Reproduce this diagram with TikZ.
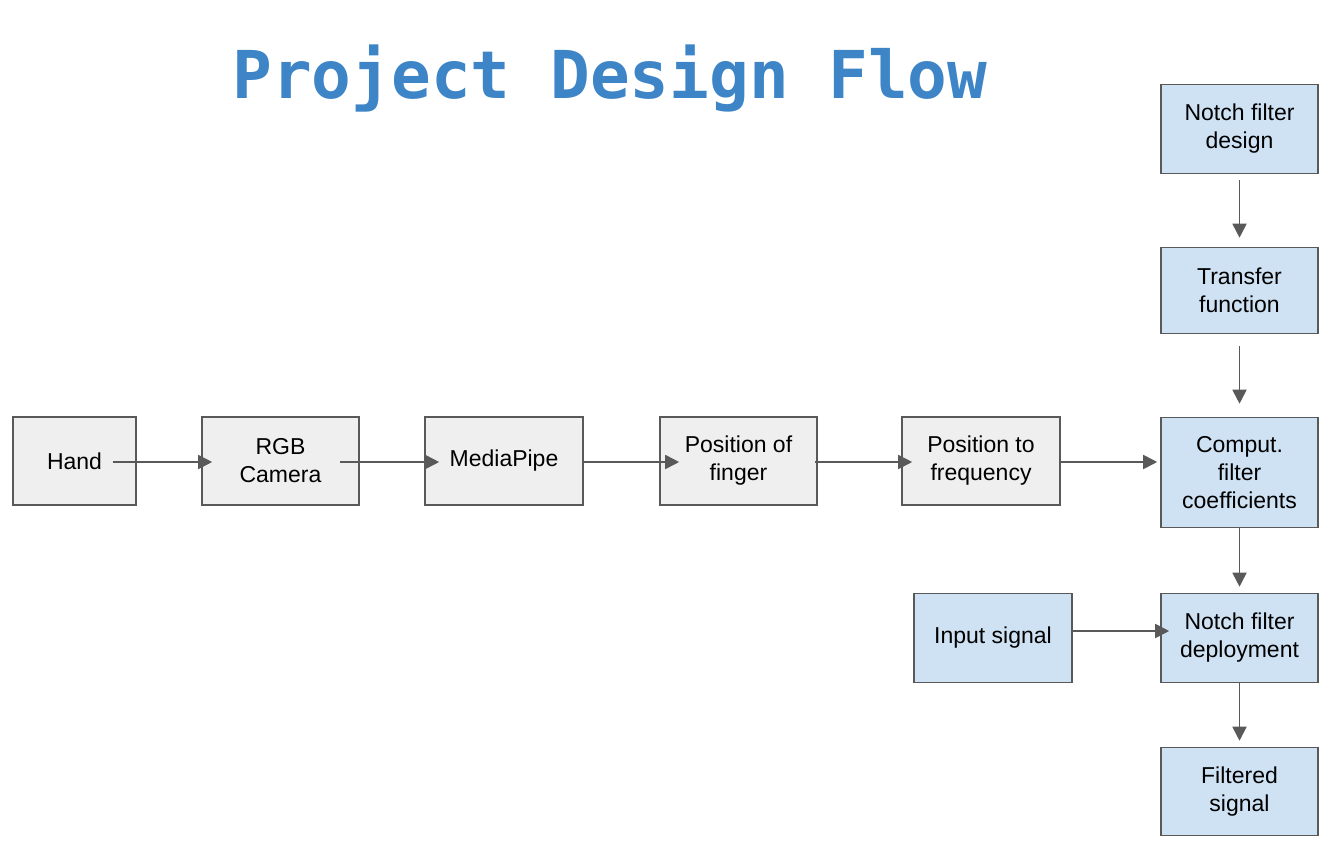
\documentclass[tikz,border=0pt]{standalone}
\usepackage{fontspec}
\setmainfont{Liberation Sans}
\newfontfamily\titlefont{DejaVu Sans Mono}
\usetikzlibrary{arrows.meta}

\definecolor{boxgray}{HTML}{EFEFEF}
\definecolor{boxblue}{HTML}{CFE2F3}
\definecolor{edgegray}{HTML}{595959}
\definecolor{titleblue}{HTML}{3D85C6}

\tikzset{
  block/.style={draw=edgegray, line width=0.8pt, align=center, inner sep=2pt,
                minimum width=78.5pt, minimum height=44pt,
                font=\fontsize{11.5}{14}\selectfont},
  graybox/.style={block, fill=boxgray},
  bluebox/.style={block, fill=boxblue},
  flow/.style={draw=edgegray, line width=0.9pt, -{Triangle[length=7pt,width=7pt]}}
}

\begin{document}
\begin{tikzpicture}[x=0.5pt, y=-0.5pt]
\useasboundingbox (0,0) rectangle (1333,851);
\node[anchor=base, text=titleblue, font=\titlefont\bfseries\fontsize{33}{36}\selectfont]
  (title) at (610,98) {Project Design Flow};
% main row
\node[graybox, minimum width=61.5pt] (hand) at (74.5,461) {Hand};
\node[graybox] (camera) at (280.5,461) {RGB\\Camera};
\node[graybox, minimum width=79pt] (mediapipe) at (504,461) {MediaPipe};
\node[graybox] (finger) at (738.5,461) {Position of\\finger};
\node[graybox, minimum width=79pt] (posfreq) at (981,461) {Position to\\frequency};
% filter column
\node[bluebox, minimum height=44.5pt] (design) at (1239.5,129) {Notch filter\\design};
\node[bluebox, minimum height=43pt] (transfer) at (1239.5,290.5) {Transfer\\function};
\node[bluebox, minimum height=55pt] (coeffs) at (1239.5,472.5) {Comput.\\filter\\coefficients};
\node[bluebox, minimum height=44.5pt] (deploy) at (1239.5,638) {Notch filter\\deployment};
\node[bluebox, minimum width=79pt, minimum height=44.5pt] (input) at (993,638) {Input signal};
\node[bluebox] (filtered) at (1239.5,791.5) {Filtered\\signal};

\draw[flow] ([xshift=-12pt,yshift=-0.5pt]hand.east) -- ([xshift=5.5pt,yshift=-0.5pt]camera.west);
\draw[flow] ([xshift=-10pt,yshift=-0.5pt]camera.east) -- ([xshift=7.5pt,yshift=-0.5pt]mediapipe.west);
\draw[flow] ([yshift=-0.5pt]mediapipe.east) -- ([xshift=10pt,yshift=-0.5pt]finger.west);
\draw[flow] ([xshift=-1.5pt,yshift=-0.5pt]finger.east) -- ([xshift=5.5pt,yshift=-0.5pt]posfreq.west);
\draw[flow] ([yshift=-0.5pt]posfreq.east) -- ([xshift=-1.5pt,yshift=-0.5pt]posfreq.east -| coeffs.west);
\draw[flow] ([yshift=-3pt]design.south) -- ([yshift=4.5pt]transfer.north);
\draw[flow] ([yshift=-6pt]transfer.south) -- ([yshift=6.5pt]coeffs.north);
\draw[flow] (coeffs.south) -- ([yshift=3pt]deploy.north);
\draw[flow] (deploy.south) -- ([yshift=3pt]filtered.north);
\draw[flow] ([yshift=3.5pt]input.east) -- ([xshift=4.5pt,yshift=3.5pt]input.east -| deploy.west);
\end{tikzpicture}
\end{document}
